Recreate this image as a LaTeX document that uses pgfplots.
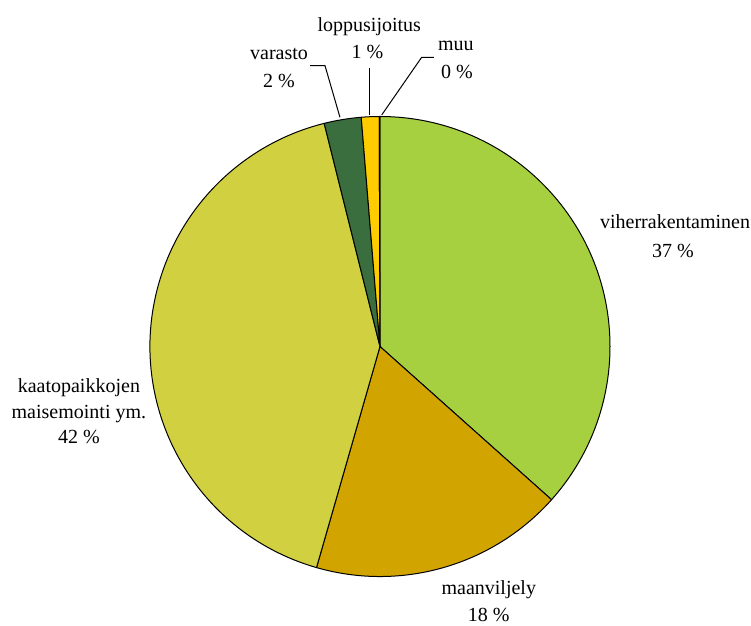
\documentclass[border=0pt]{standalone}
\usepackage{fontspec}
\setmainfont{Liberation Serif}
\usepackage{pgfplots}
\pgfplotsset{compat=1.18}

\definecolor{cviher}{HTML}{A6D03F}
\definecolor{cmaan}{HTML}{D2A400}
\definecolor{ckaato}{HTML}{D1D040}
\definecolor{cvarasto}{HTML}{3B6E3F}
\definecolor{cloppu}{HTML}{FFCC00}
\definecolor{cmuu}{HTML}{A6D03F}

% slice: start percent, size percent, colour (clockwise from the top)
\newcommand{\slice}[3]{%
  \filldraw[fill=#3, draw=black, line width=0.5pt, line join=round]
    (axis cs:0,0) -- +({90-3.6*#1}:115pt)
    arc[start angle={90-3.6*#1}, end angle={90-3.6*(#1+#2)}, radius=115pt] -- cycle;
}

\begin{document}
\begin{tikzpicture}[lbl/.style={inner sep=0pt, anchor=base}]
\begin{axis}[
  x=115pt, y=115pt, disabledatascaling,
  hide axis, clip=false,
  xmin=-1.652, xmax=1.613, ymin=-1.211, ymax=1.5065
]
\coordinate (bl) at (axis cs:-1.652,-1.211);
\coordinate (tr) at (axis cs:1.613,1.5065);

% values (percent)
\slice{0}{36.6}{cviher}
\slice{36.6}{17.85}{cmaan}
\slice{54.45}{41.65}{ckaato}
\slice{96.1}{2.6}{cvarasto}
\slice{98.7}{1.25}{cloppu}
\slice{99.95}{0.05}{cmuu}

% leader lines
\draw[line width=0.5pt] (axis cs:-0.304,1.2209) -- (axis cs:-0.239,1.2209) -- (axis cs:-0.174,0.9965);
\draw[line width=0.5pt] (axis cs:-0.0465,1.2096) -- (axis cs:-0.0465,1.0065);
\draw[line width=0.5pt] (axis cs:0.2348,1.2574) -- (axis cs:0.1813,1.2574) -- (axis cs:0.0074,1.0065);

% labels
\node[lbl] at (axis cs:1.283,0.515) {viherrakentaminen};
\node[lbl] at (axis cs:1.274,0.389) {37 \%};
\node[lbl] at (axis cs:0.473,-1.080) {maanviljely};
\node[lbl] at (axis cs:0.473,-1.197) {18 \%};
\node[lbl] at (axis cs:-1.309,-0.202) {kaatopaikkojen};
\node[lbl] at (axis cs:-1.309,-0.311) {maisemointi ym.};
\node[lbl] at (axis cs:-1.309,-0.420) {42 \%};
\node[lbl] at (axis cs:-0.439,1.2457) {varasto};
\node[lbl] at (axis cs:-0.439,1.127) {2 \%};
\node[lbl] at (axis cs:-0.0465,1.369) {loppusijoitus};
\node[lbl] at (axis cs:-0.055,1.253) {1 \%};
\node[lbl] at (axis cs:0.330,1.289) {muu};
\node[lbl] at (axis cs:0.335,1.166) {0 \%};
\end{axis}
\pgfresetboundingbox
\useasboundingbox (bl) rectangle (tr);
\end{tikzpicture}
\end{document}
